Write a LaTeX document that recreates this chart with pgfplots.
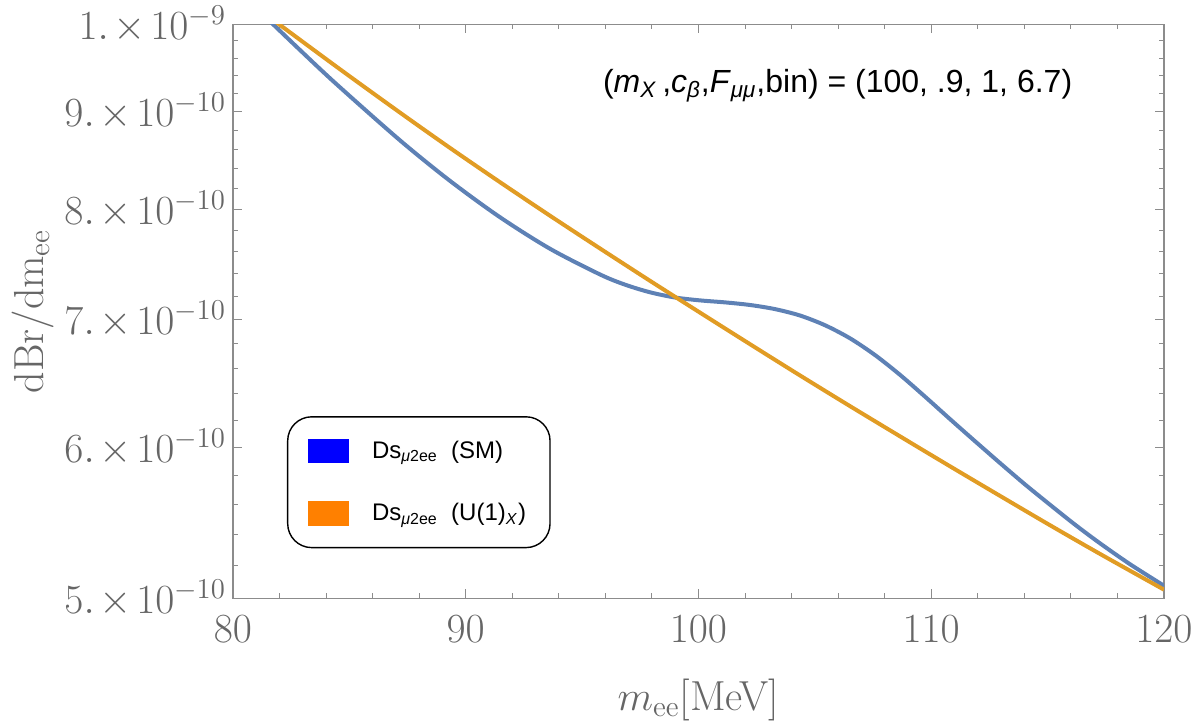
\documentclass[border=0pt]{standalone}
\usepackage{fontspec}
\setsansfont{Liberation Sans}
\usepackage{pgfplots}
\pgfplotsset{compat=1.18}
\definecolor{mblue}{HTML}{5E81B5}
\definecolor{morange}{HTML}{E19C24}
\definecolor{axgray}{HTML}{8C8C8C}
\definecolor{labgray}{HTML}{666666}
\newcommand{\sci}[2]{$#1.\mkern2mu{\times}\mkern2mu10^{#2}$}
\begin{document}
\begin{tikzpicture}
\begin{axis}[
  scale only axis, width=465.5pt, height=287pt,
  xmin=80, xmax=120, ymode=log, ymin=5e-10, ymax=1e-9,
  xtick={80,90,100,110,120},
  minor xtick={82,84,86,88,92,94,96,98,102,104,106,108,112,114,116,118},
  ytick={5e-10,6e-10,7e-10,8e-10,9e-10,1e-9},
  yticklabels={\sci{5}{-10},\sci{6}{-10},\sci{7}{-10},\sci{8}{-10},\sci{9}{-10},\sci{1}{-9}},
  minor ytick={5.2e-10,5.4e-10,5.6e-10,5.8e-10,6.2e-10,6.4e-10,6.6e-10,6.8e-10,7.2e-10,7.4e-10,7.6e-10,7.8e-10,8.2e-10,8.4e-10,8.6e-10,8.8e-10,9.2e-10,9.4e-10,9.6e-10,9.8e-10},
  tick align=inside,
  major tick length=4.5pt, minor tick length=2.5pt,
  axis line style={axgray, line width=0.6pt},
  every tick/.style={axgray, line width=0.5pt},
  tick label style={labgray, font=\fontsize{21}{21}\selectfont},
  xticklabel style={yshift=-5pt},
  xlabel={$m_{\mathrm{ee}}$[MeV]},
  ylabel={dBr/dm$_{\mathrm{ee}}$},
  label style={labgray, font=\fontsize{21}{21}\selectfont},
  xlabel style={at={(axis description cs:0.5,-0.177)}, anchor=center},
  ylabel style={at={(axis description cs:-0.215,0.5)}, anchor=center},
  legend style={at={(axis description cs:0.058,0.087)}, anchor=south west,
    draw=black, line width=0.7pt, rounded corners=12pt, fill=white,
    inner xsep=10pt, inner ysep=10pt, row sep=17pt, column sep=9.5pt,
    font=\sffamily\fontsize{12}{14}\selectfont, text=black},
  legend cell align=left,
]
\addlegendimage{legend image code/.code={\fill[blue,sharp corners] (0pt,-5.75pt) rectangle (20pt,5.75pt);}}
\addlegendentry{Ds\textsubscript{\textit{μ}2ee}\ \ (SM)}
\addlegendimage{legend image code/.code={\fill[orange,sharp corners] (0pt,-5.75pt) rectangle (20pt,5.75pt);}}
\addlegendentry{Ds\textsubscript{\textit{μ}2ee}\ \ (U(1)\textsubscript{\textit{X}})}

\addplot[mblue, line width=2pt, smooth, forget plot] coordinates {
(81.375,1.0093e-9) (81.719,1.0000e-9) (82.879,0.9693e-9) (84.425,0.9307e-9)
(87.175,0.8692e-9) (89.323,0.8277e-9) (91.471,0.7922e-9) (93.620,0.7626e-9)
(95.768,0.7393e-9) (96.842,0.7303e-9) (97.916,0.7235e-9) (98.990,0.7190e-9)
(100.064,0.7165e-9) (101.138,0.7148e-9) (102.213,0.7125e-9) (103.287,0.7090e-9)
(104.361,0.7035e-9) (105.435,0.6953e-9) (106.509,0.6844e-9) (107.583,0.6707e-9)
(108.657,0.6549e-9) (109.731,0.6379e-9) (110.806,0.6208e-9) (111.880,0.6044e-9)
(112.954,0.5887e-9) (114.028,0.5737e-9) (115.102,0.5598e-9) (116.176,0.5465e-9)
(117.250,0.5343e-9) (118.539,0.5210e-9) (120.000,0.5076e-9)
};
\addplot[morange, line width=2pt, smooth, forget plot] coordinates {
(81.590,1.0081e-9) (81.976,1.0000e-9) (84.597,0.9471e-9) (87.175,0.8988e-9)
(89.323,0.8613e-9) (91.471,0.8264e-9) (93.620,0.7937e-9) (95.768,0.7629e-9)
(97.916,0.7337e-9) (100.064,0.7060e-9) (102.213,0.6796e-9) (104.361,0.6544e-9)
(106.509,0.6306e-9) (108.657,0.6080e-9) (110.806,0.5864e-9) (112.954,0.5658e-9)
(115.102,0.5461e-9) (117.250,0.5275e-9) (120.000,0.5052e-9)
};
\node[anchor=base west, inner sep=0pt, font=\sffamily\fontsize{16}{18}\selectfont, text=black]
  at (rel axis cs:0.397,0.8815)
  {(\textit{m}\textsubscript{\textit{X}}\,,\textit{c}\textsubscript{\textit{β}},\textit{F}\textsubscript{\textit{μμ}},bin) = (100, .9, 1, 6.7)};
\end{axis}
\pgfresetboundingbox
\path ([shift={(-116.5pt,-61.5pt)}]current axis.south west) rectangle ([shift={(18pt,12pt)}]current axis.north east);
\end{tikzpicture}
\end{document}
